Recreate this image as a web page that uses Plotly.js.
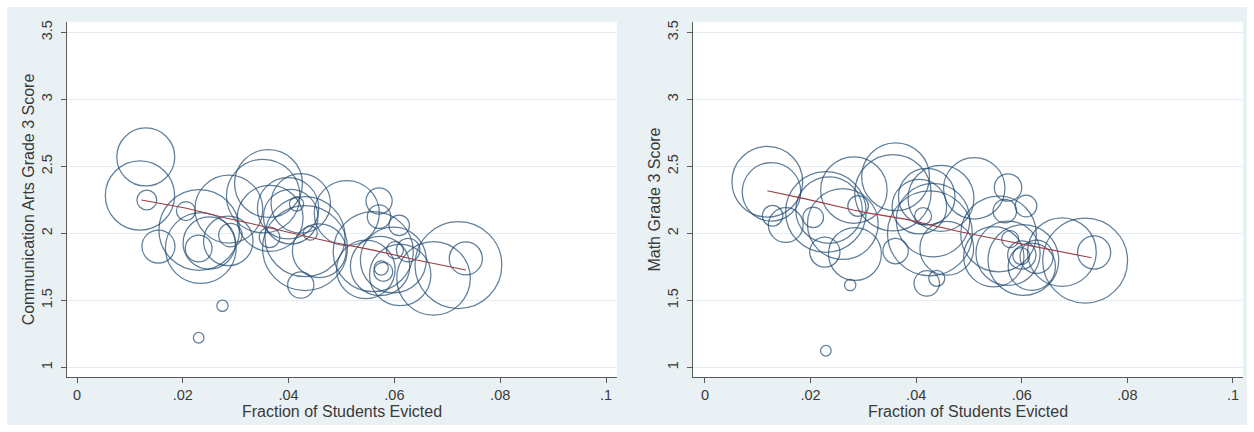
<!DOCTYPE html>
<html>
<head>
<meta charset="utf-8">
<script src="https://cdn.plot.ly/plotly-3.0.1.min.js"></script>
<style>html,body{margin:0;padding:0;background:#fff;}#chart{width:1254px;height:432px;}</style>
</head>
<body>
<div id="chart"></div>
<script>
// ---- Data: Communication Arts panel (schools) ----
const caEvicted = [0.0130,0.0119,0.0132,0.0154,0.0206,0.0231,0.0234,0.0230,0.0250,0.0286,0.0290,0.0287,0.0275,0.0230,
  0.0362,0.0352,0.0365,0.0364,0.0399,0.0423,0.0415,0.0404,0.0431,0.0431,0.0458,0.0441,0.0423,0.0510,0.0571,0.0571,
  0.0609,0.0560,0.0721,0.0735,0.0674,0.0611,0.0546,0.0573,0.0598,0.0579,0.0601,0.0626,0.0575];
const caScore = [2.570,2.282,2.249,1.901,2.166,2.025,1.890,1.887,1.928,1.943,1.987,2.181,1.460,1.221,
  2.372,2.278,2.112,1.970,2.187,2.224,2.219,2.124,1.975,1.890,1.870,2.002,1.614,2.151,2.241,2.124,
  2.060,1.863,1.763,1.813,1.664,1.689,1.731,1.756,1.801,1.713,1.875,1.875,1.741];
const caEnrolled = [420,600,49,137,45,812,625,90,342,306,69,576,16,14,
  576,676,543,53,471,441,25,372,801,900,361,25,86,529,86,69,
  53,801,942,137,676,471,428,441,543,45,36,69,25];
const caFitX = [0.0122,0.0207,0.0283,0.0327,0.0422,0.0478,0.0560,0.0642,0.0735];
const caFitY = [2.249,2.187,2.112,2.075,1.987,1.937,1.875,1.801,1.726];

// ---- Data: Math panel (schools) ----
const mEvicted = [0.0118,0.0126,0.0128,0.0153,0.0205,0.0229,0.0235,0.0261,0.0284,0.0227,0.0275,0.0229,0.0282,0.0290,
  0.0361,0.0356,0.0361,0.0420,0.0406,0.0447,0.0413,0.0426,0.0432,0.0458,0.0420,0.0439,0.0510,0.0574,0.0608,0.0568,
  0.0556,0.0737,0.0720,0.0676,0.0547,0.0574,0.0603,0.0600,0.0628,0.0619,0.0599,0.0578];
const mScore = [2.385,2.310,2.131,2.062,2.119,2.159,2.174,2.069,1.846,1.860,1.614,1.124,2.323,2.204,
  2.422,2.303,1.868,2.273,2.199,2.261,2.129,2.000,2.099,1.888,1.627,1.664,2.336,2.342,2.204,2.166,
  1.995,1.857,1.796,1.860,1.825,1.851,1.801,1.838,1.825,1.751,1.831,1.957];
const mEnrolled = [625,428,53,151,53,812,552,625,350,114,16,14,552,53,
  576,729,81,400,372,543,36,900,676,361,81,32,471,94,59,69,
  713,137,900,590,454,515,625,100,137,279,36,36];
const mFitX = [0.0118,0.0186,0.0281,0.0313,0.0382,0.0483,0.0578,0.0732];
const mFitY = [2.318,2.261,2.174,2.149,2.104,2.012,1.937,1.818];

const xTickVals = [0,0.02,0.04,0.06,0.08,0.1];
const xTickText = ['0','.02','.04','.06','.08','.1'];
const yTickVals = [1,1.5,2,2.5,3,3.5];
const yTickText = ['1','1.5','2','2.5','3','3.5'];

const navy = '#1f4a70', maroon = '#9a3d42', bgBlue = '#eaf1f4', gridCol = '#e6edf1', axisCol = '#5a5a5a', textCol = '#3a3a3a';
const FONT = 'Liberation Sans, Arial, sans-serif';

function bubbles(x, y, w, xa, ya) {
  return {x: x, y: y, xaxis: xa, yaxis: ya, type: 'scatter', mode: 'markers', hoverinfo: 'x+y',
    marker: {size: w, sizemode: 'area', sizeref: 0.25, color: 'rgba(0,0,0,0)',
      line: {color: navy, width: 1.25}}};
}
function fit(x, y, xa, ya) {
  return {x: x, y: y, xaxis: xa, yaxis: ya, type: 'scatter', mode: 'lines',
    line: {color: maroon, width: 1.1}, hoverinfo: 'skip'};
}

const traces = [
  bubbles(caEvicted, caScore, caEnrolled, 'x', 'y'),
  fit(caFitX, caFitY, 'x', 'y'),
  bubbles(mEvicted, mScore, mEnrolled, 'x2', 'y2'),
  fit(mFitX, mFitY, 'x2', 'y2')
];

const W = 1254, H = 432;
function xAxis(l, r, range, anchor) {
  return {domain: [l / W, r / W], range: range, anchor: anchor,
    tickmode: 'array', tickvals: xTickVals, ticktext: xTickText,
    ticks: 'outside', ticklen: 5, tickcolor: axisCol, tickwidth: 1,
    showline: true, linecolor: axisCol, linewidth: 1, showgrid: false, zeroline: false,
    tickfont: {family: FONT, size: 14.5, color: textCol},
    title: {text: 'Fraction of Students Evicted', standoff: 2,
      font: {family: FONT, size: 16, color: textCol}}};
}
function yAxis(title, anchor) {
  return {domain: [(H - 377) / H, (H - 22) / H], range: [0.928, 3.577], anchor: anchor,
    tickmode: 'array', tickvals: yTickVals, ticktext: yTickText, tickangle: -90,
    ticks: 'outside', ticklen: 5, tickcolor: axisCol, tickwidth: 1, ticklabelstandoff: 3,
    showline: true, linecolor: axisCol, linewidth: 1,
    showgrid: true, gridcolor: gridCol, gridwidth: 1, zeroline: false,
    tickfont: {family: FONT, size: 14.5, color: textCol},
    title: {text: title, standoff: 0,
      font: {family: FONT, size: 16, color: textCol}}};
}

const layout = {
  width: W, height: H, showlegend: false,
  margin: {l: 0, r: 0, t: 0, b: 0, pad: 0},
  paper_bgcolor: bgBlue, plot_bgcolor: '#ffffff',
  xaxis: xAxis(67, 617, [-0.00189, 0.10208], 'y'),
  yaxis: yAxis('Communication Arts Grade 3 Score', 'x'),
  xaxis2: xAxis(693, 1243, [-0.00227, 0.1019], 'y2'),
  yaxis2: yAxis('Math Grade 3 Score', 'x2'),
  shapes: [{type: 'rect', xref: 'paper', yref: 'paper', x0: 0, x1: 1, y0: 0, y1: 1,
    line: {color: '#ffffff', width: 14}, fillcolor: 'rgba(0,0,0,0)', layer: 'above'}]
};

Plotly.newPlot('chart', traces, layout, {displayModeBar: false, staticPlot: true});
</script>
</body>
</html>
